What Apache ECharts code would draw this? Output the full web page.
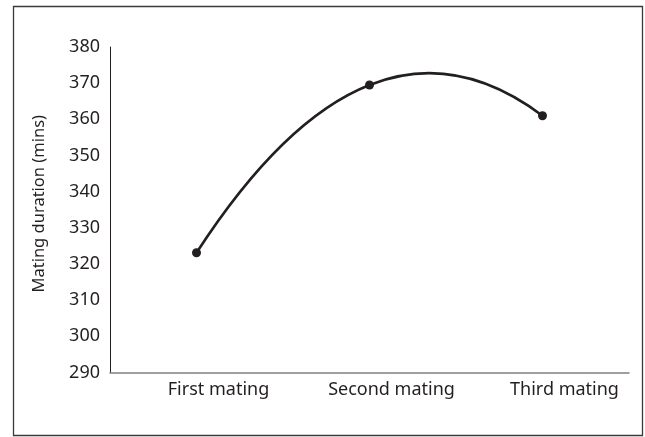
<!DOCTYPE html>
<html>
<head>
<meta charset="utf-8">
<script src="https://cdn.jsdelivr.net/npm/echarts@6/dist/echarts.min.js"></script>
<style>html,body{margin:0;padding:0;background:#fff}#c{width:645px;height:437px}</style>
</head>
<body>
<div id="c"></div>
<script>
const categories = ['First mating', 'Second mating', 'Third mating'];
const durations = [323.1, 369.5, 361.0];
const yTicks = { min: 290, max: 380, interval: 10 };
const yName = 'Mating duration (mins)';

const chart = echarts.init(document.getElementById('c'), null, { renderer: 'canvas' });
const fontFam = '"Noto Sans", "DejaVu Sans", sans-serif';
const ink = '#231f20';

// Smooth curve: quadratic through the data points, drawn via the axes' coordinate system
function renderCurve(params, api) {
  if (params.dataIndex !== 0) return null;
  const P = durations.map((v, i) => api.coord([i, v]));
  const path = [];
  for (let i = 0; i < P.length - 1; i++) {
    const a = P[Math.max(0, i - 1)], b = P[i], c = P[i + 1];
    const h = c[0] - b[0];
    let slope;
    if (i === 0 && P.length >= 3) {
      slope = (-3 * P[0][1] + 4 * P[1][1] - P[2][1]) / (2 * h);
    } else {
      slope = (c[1] - a[1]) / (2 * h);
    }
    const ctrl = [b[0] + h / 2, b[1] + slope * h / 2];
    if (i === 0) path.push('M' + b[0] + ' ' + b[1]);
    path.push('Q' + ctrl[0] + ' ' + ctrl[1] + ' ' + c[0] + ' ' + c[1]);
  }
  return {
    type: 'path',
    shape: { pathData: path.join(' ') },
    style: { fill: 'none', stroke: ink, lineWidth: 2.6 },
    z2: 1
  };
}

chart.setOption({
  animation: false,
  backgroundColor: '#fff',
  graphic: [{
    type: 'rect', shape: { x: 13.5, y: 6.5, width: 629, height: 429 },
    style: { fill: 'none', stroke: '#3a3a3a', lineWidth: 1.3 }, silent: true
  }],
  grid: { left: 110, right: 16, top: 47, bottom: 64.5 },
  xAxis: {
    type: 'category', data: categories, boundaryGap: true,
    axisLine: { lineStyle: { color: '#808080', width: 1.5 } },
    axisTick: { show: false },
    axisLabel: { color: ink, fontSize: 18, fontFamily: fontFam, margin: 8, padding: [0, 0, 0, 44] }
  },
  yAxis: {
    type: 'value', min: yTicks.min, max: yTicks.max, interval: yTicks.interval,
    name: yName, nameLocation: 'middle', nameGap: 62, nameRotate: 90,
    nameTextStyle: { color: ink, fontSize: 16.5, fontFamily: fontFam, padding: [0, 0, 0, 12] },
    axisLine: { show: true, lineStyle: { color: ink, width: 1 } },
    axisTick: { show: false },
    splitLine: { show: false },
    axisLabel: { color: ink, fontSize: 18, fontFamily: fontFam, margin: 10 }
  },
  series: [{
    type: 'custom', renderItem: renderCurve, data: durations.map((v, i) => [i, v]),
    z: 2, silent: true
  }, {
    type: 'line', data: durations,
    symbol: 'circle', symbolSize: 9,
    lineStyle: { opacity: 0 },
    itemStyle: { color: ink },
    z: 3
  }]
});
</script>
</body>
</html>
